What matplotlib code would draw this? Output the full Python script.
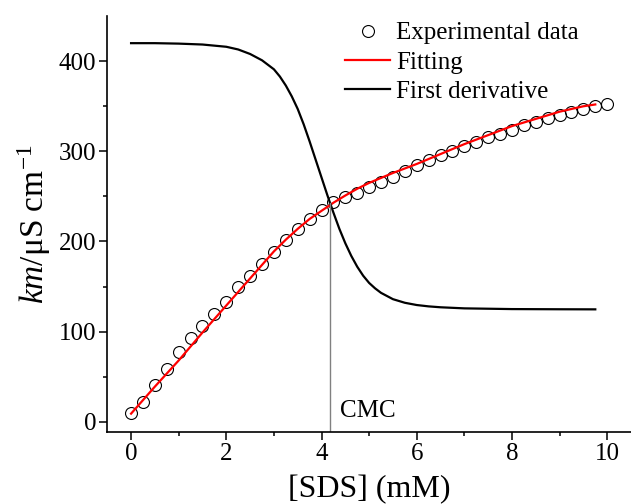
import numpy as np
import matplotlib
matplotlib.use("Agg")
import matplotlib.pyplot as plt

plt.rcParams['font.family'] = ['Liberation Serif', 'DejaVu Serif']
plt.rcParams['mathtext.fontset'] = 'custom'
plt.rcParams['mathtext.rm'] = 'Liberation Serif'
plt.rcParams['mathtext.it'] = 'Liberation Serif:italic'

# experimental conductivity data
sds = np.arange(0, 10.01, 0.25)
km = [10, 21.5, 40.7, 58.4, 77.6, 92.4, 106, 120, 133, 149, 161.5, 175, 188,
      202, 214, 225, 235, 244, 249.5, 254, 260, 266, 272, 278, 284.5, 290,
      295.5, 300.5, 305.5, 310.5, 316, 319.5, 324, 329, 332.5, 337.5, 340,
      343.5, 347.5, 350, 353]

# fitted curve
fit_x = [0, 0.5, 1, 1.5, 2, 2.5, 3, 3.25, 3.5, 3.75, 4, 4.25, 4.5, 4.75, 5,
         5.25, 5.5, 6, 6.5, 7, 7.5, 8, 8.5, 9, 9.5, 9.75]
fit_y = [9, 39, 68, 99, 129, 159, 189, 202, 214, 225, 234, 243, 251, 258.5,
         265, 270.5, 276, 286, 297, 308, 318, 328, 336, 344, 350, 352]

# first derivative (scaled)
der_x = [0, 0.5, 1.0, 1.5, 2.0, 2.25, 2.5, 2.75, 3.0, 3.125, 3.25, 3.375,
         3.5, 3.625, 3.75, 3.875, 4.0, 4.125, 4.25, 4.375, 4.5, 4.625, 4.75,
         4.875, 5.0, 5.125, 5.25, 5.5, 5.75, 6.0, 6.25, 6.5, 7.0, 8.0, 9.0,
         9.75]
der_y = [420, 420, 419.5, 418.5, 416, 413, 408, 401, 391, 383, 373, 361,
         347, 330, 311, 291, 271, 251, 232, 214, 198, 184, 172,
         162, 154, 148, 143, 136, 132, 129.5, 128, 127, 125.8, 125, 124.8,
         124.7]

cmc = 4.17
cmc_top = 243

fig = plt.figure(figsize=(6.31, 5.04), dpi=100)
ax = fig.add_axes([0.170, 0.1435, 0.830, 0.8245])

ax.plot(sds, km, 'o', mfc='none', mec='black', ms=8.6, mew=0.8,
        label='Experimental data')
ax.plot(fit_x, fit_y, color='red', lw=1.6, label='Fitting')
ax.plot(der_x, der_y, color='black', lw=1.6, label='First derivative')
ax.plot([cmc, cmc], [-11, cmc_top], color='gray', lw=1.0)
ax.text(4.39, 5, 'CMC', fontsize=18, va='baseline')

ax.set_xlim(-0.5, 10.5)
ax.set_ylim(-11, 450)
ax.set_xticks([0, 2, 4, 6, 8, 10])
ax.set_xticks([1, 3, 5, 7, 9], minor=True)
ax.set_yticks([0, 100, 200, 300, 400])
ax.set_yticks([50, 150, 250, 350], minor=True)
ax.tick_params(which='major', direction='out', length=6, width=1.1,
               labelsize=18, pad=2)
ax.tick_params(which='minor', direction='out', length=3, width=1.1)
for s in ['top', 'right']:
    ax.spines[s].set_visible(False)
for s in ['left', 'bottom']:
    ax.spines[s].set_linewidth(1.2)

ax.set_xlabel('[SDS] (mM)', fontsize=23, labelpad=7)
ax.set_ylabel(r'$\mathit{km}$/μS cm$^{-1}$', fontsize=24, labelpad=4)

fig.legend(loc='upper left', bbox_to_anchor=(345 / 631, 1 - 22 / 504),
           frameon=False, fontsize=18, handlelength=1.8, handletextpad=0.25,
           borderpad=0, borderaxespad=0, labelspacing=0.26)

fig.savefig('out.png', dpi=100)
